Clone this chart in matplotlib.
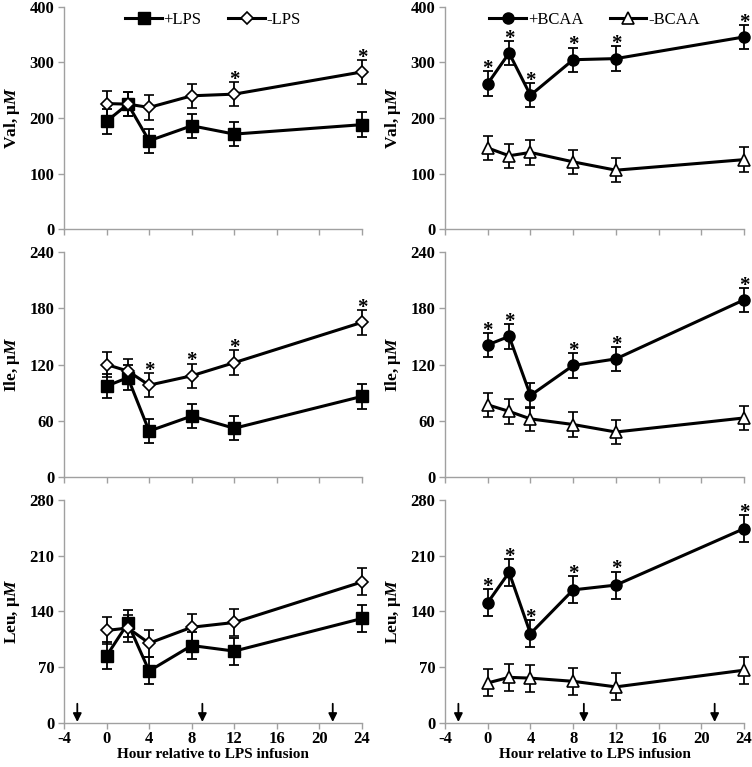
import matplotlib
matplotlib.use("Agg")
import matplotlib.pyplot as plt
from matplotlib.lines import Line2D

plt.rcParams['font.family'] = ['Liberation Serif', 'DejaVu Serif']
plt.rcParams['font.weight'] = 'bold'
plt.rcParams['axes.unicode_minus'] = False
plt.rcParams['mathtext.fontset'] = 'custom'
plt.rcParams['mathtext.rm'] = 'Liberation Serif:bold'
plt.rcParams['mathtext.it'] = 'Liberation Serif:italic:bold'

hours = [0, 2, 4, 8, 12, 24]
xticks = [-4, 0, 4, 8, 12, 16, 20, 24]
feed_arrows = [-2.75, 9.0, 21.25]

# Val
val_lps_pos = [194, 225, 159, 186, 171, 188]
val_lps_neg = [226, 225, 219, 240, 243, 283]
val_lps_err = [22, 22, 22, 22, 22, 22]
val_lps_star = [False, False, False, False, True, True]
val_bcaa_pos = [262, 317, 241, 305, 307, 346]
val_bcaa_neg = [146, 132, 138, 121, 106, 125]
val_bcaa_err = [22, 22, 22, 22, 22, 22]
val_bcaa_star = [True, True, True, True, True, True]

# Ile
ile_lps_pos = [97, 106, 49, 65, 52, 86]
ile_lps_neg = [120, 113, 98, 108, 122, 165]
ile_lps_err = [13, 13, 13, 13, 13, 13]
ile_lps_star = [False, False, True, True, True, True]
ile_bcaa_pos = [141, 150, 87, 119, 126, 189]
ile_bcaa_neg = [77, 70, 62, 56, 48, 63]
ile_bcaa_err = [13, 13, 13, 13, 13, 13]
ile_bcaa_star = [True, True, False, True, True, True]

# Leu
leu_lps_pos = [84, 125, 65, 97, 90, 131]
leu_lps_neg = [116, 119, 100, 120, 126, 177]
leu_lps_err = [17, 17, 17, 17, 17, 17]
leu_lps_star = [False, False, False, False, False, False]
leu_bcaa_pos = [151, 189, 112, 167, 173, 244]
leu_bcaa_neg = [50, 57, 56, 52, 45, 66]
leu_bcaa_err = [17, 17, 17, 17, 17, 17]
leu_bcaa_star = [True, True, True, True, True, True]

GRAY = '#a0a0a0'

fig = plt.figure(figsize=(7.52, 7.67), dpi=100)

rows = [(0.7014, 0.2895), (0.3781, 0.2933), (0.0578, 0.2903)]
cols = [(0.0851, 0.3963), (0.5918, 0.3976)]

panels = [
    # row, col, ylabel, ymax, step, pos, neg, err, stars, markers, labels
    (0, 0, 'Val', 400, 100, val_lps_pos, val_lps_neg, val_lps_err, val_lps_star, ('s', 'D'), ('+LPS', '-LPS')),
    (0, 1, 'Val', 400, 100, val_bcaa_pos, val_bcaa_neg, val_bcaa_err, val_bcaa_star, ('o', '^'), ('+BCAA', '-BCAA')),
    (1, 0, 'Ile', 240, 60, ile_lps_pos, ile_lps_neg, ile_lps_err, ile_lps_star, ('s', 'D'), None),
    (1, 1, 'Ile', 240, 60, ile_bcaa_pos, ile_bcaa_neg, ile_bcaa_err, ile_bcaa_star, ('o', '^'), None),
    (2, 0, 'Leu', 280, 70, leu_lps_pos, leu_lps_neg, leu_lps_err, leu_lps_star, ('s', 'D'), None),
    (2, 1, 'Leu', 280, 70, leu_bcaa_pos, leu_bcaa_neg, leu_bcaa_err, leu_bcaa_star, ('o', '^'), None),
]

msize = {'s': 8, 'D': 6.5, 'o': 8, '^': 8}
TICK_FS = 12
LAB_FS = 11

for r, c, name, ymax, step, pos, neg, err, stars, mk, labels in panels:
    ax = fig.add_axes([cols[c][0], rows[r][0], cols[c][1], rows[r][1]])
    # LPS panels star the "-" group, BCAA panels star the "+" group
    star_series = neg if mk[0] == 's' else pos
    h1 = ax.errorbar(hours, pos, yerr=err, color='black', lw=2.2, marker=mk[0],
                     ms=msize[mk[0]], mfc='black', mec='black', elinewidth=1.3,
                     capsize=3.5, capthick=1.3, clip_on=False, zorder=3)
    h2 = ax.errorbar(hours, neg, yerr=err, color='black', lw=2.2, marker=mk[1],
                     ms=msize[mk[1]], mfc='white', mec='black', mew=1.2,
                     elinewidth=1.3, capsize=3.5, capthick=1.3, clip_on=False, zorder=4)
    for h in (h1, h2):
        for part in h.lines[1] + h.lines[2]:
            part.set_clip_on(False)
    for x, y, e, s in zip(hours, star_series, err, stars):
        if s:
            ax.annotate('*', (x, y + e), xytext=(0, 1.5), textcoords='offset points',
                        ha='center', va='center', fontsize=15, fontweight='bold')
    ax.set_xlim(-4, 24)
    ax.set_ylim(0, ymax)
    ax.set_xticks(xticks)
    ax.set_yticks(range(0, ymax + 1, step))
    for sp in ('top', 'right'):
        ax.spines[sp].set_visible(False)
    for sp in ('left', 'bottom'):
        ax.spines[sp].set_color(GRAY)
        ax.spines[sp].set_linewidth(1.0)
    ax.tick_params(axis='both', direction='out', color=GRAY, length=4, width=1.0,
                   labelsize=TICK_FS, pad=3)
    ax.tick_params(axis='x', pad=2)
    if r < 2:
        ax.set_xticklabels([])
    else:
        ax.set_xlabel('Hour relative to LPS infusion', fontsize=LAB_FS,
                      fontweight='bold', labelpad=1)
        for xa in feed_arrows:
            ax.annotate('', xy=(xa, ymax * 0.003), xytext=(xa, ymax * 0.085),
                        arrowprops=dict(arrowstyle='-|>,head_width=0.25,head_length=0.5',
                                        color='black', lw=1.3, shrinkA=0, shrinkB=0))
    ax.set_ylabel(name + r', μ$\mathit{M}$', fontsize=12.5, fontweight='bold', labelpad=5)
    if labels:
        handles = [
            Line2D([], [], color='black', lw=2.2, marker=mk[0], ms=msize[mk[0]],
                   mfc='black', mec='black'),
            Line2D([], [], color='black', lw=2.2, marker=mk[1], ms=msize[mk[1]],
                   mfc='white', mec='black', mew=1.2),
        ]
        ax.legend(handles, labels, loc='upper center', bbox_to_anchor=(0.5, 1.045),
                  ncol=2, frameon=False, handlelength=2.2, handletextpad=0.1,
                  columnspacing=1.6, prop={'size': TICK_FS, 'weight': 'normal'})

fig.savefig('out.png', dpi=100)
